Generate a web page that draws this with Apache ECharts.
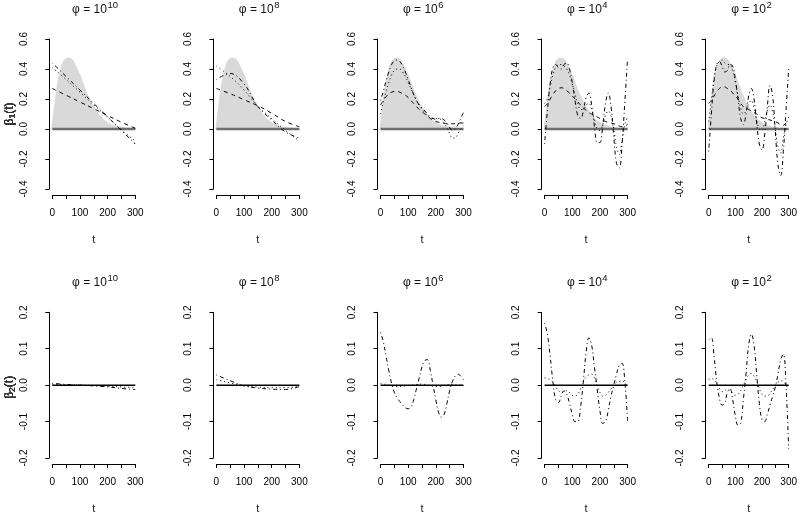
<!DOCTYPE html>
<html><head><meta charset="utf-8">
<script src="https://cdn.jsdelivr.net/npm/echarts@6/dist/echarts.min.js"></script>
<style>html,body{margin:0;padding:0;background:#fff}#c{width:800px;height:515px}</style>
</head><body><div id="c"></div>
<script>
// ---- data ----
const T  = [0,10,20,30,40,50,60,70,80,90,100,110,120,130,140,150,160,170,180,190,200,210,220,230,240,250,260,270,280,290,300];
const TC = [0,50,100,150,200,250,300];
const ZERO_T = [0,300];
const ZERO_V = [0,0];
const PHI_EXP = ['10','8','6','4','2'];
const X_TICK_LABELS = [0,100,200,300];
const Y1_TICKS = [-0.4,-0.2,0.0,0.2,0.4,0.6];
const Y2_TICKS = [-0.2,-0.1,0.0,0.1,0.2];

const B1_TRUE = [0,0.15,0.29,0.38,0.44,0.465,0.47,0.46,0.43,0.39,0.35,0.30,0.25,0.21,0.17,0.14,0.11,0.085,0.065,0.05,0.038,0.028,0.02,0.014,0.01,0.007,0.004,0.002,0.001,0,0];

// top row (beta1 estimates)
const P1_DASH = [0.27,0.225,0.18,0.135,0.09,0.045,0.005];
const P1_DOT  = [0.41,0.33,0.245,0.16,0.08,-0.005,-0.08];
const P1_DD   = [0.44,0.35,0.26,0.17,0.08,-0.01,-0.10];
const P2_DASH = [0.27,0.235,0.195,0.155,0.105,0.05,0.015];
const P2_DOT  = [0.42,0.35,0.26,0.15,0.07,-0.01,-0.08];
const P2_DD   = [0.33,0.37,0.30,0.15,0.06,-0.02,-0.06];
const P3_DASH = [0.16,0.19,0.215,0.235,0.245,0.25,0.25,0.245,0.235,0.225,0.21,0.19,0.17,0.15,0.13,0.115,0.10,0.085,0.07,0.06,0.05,0.045,0.04,0.038,0.035,0.035,0.035,0.035,0.038,0.04,0.04];
const P3_DOT  = [0.10,0.18,0.25,0.31,0.36,0.39,0.40,0.40,0.38,0.35,0.31,0.27,0.23,0.19,0.16,0.13,0.11,0.09,0.075,0.07,0.07,0.07,0.06,0.04,0.01,-0.03,-0.06,-0.06,-0.03,0.0,0.02];
const P3_DD   = [0.19,0.25,0.32,0.38,0.43,0.455,0.46,0.45,0.42,0.38,0.33,0.28,0.23,0.19,0.16,0.14,0.12,0.10,0.08,0.07,0.065,0.07,0.07,0.06,0.04,0.01,-0.01,0.0,0.03,0.07,0.11];
const P4_DASH = [0.15,0.17,0.20,0.23,0.255,0.27,0.275,0.27,0.255,0.24,0.22,0.20,0.18,0.16,0.14,0.125,0.11,0.10,0.09,0.08,0.07,0.06,0.05,0.045,0.04,0.035,0.03,0.02,0.015,0.02,0.03];
const P4_DOT  = [0.17,0.20,0.28,0.36,0.41,0.43,0.43,0.42,0.40,0.36,0.30,0.23,0.17,0.13,0.13,0.16,0.17,0.13,0.06,0.0,-0.01,0.03,0.09,0.12,0.09,0.0,-0.12,-0.17,-0.08,0.03,0.08];
const P4_DD   = [-0.10,0.12,0.30,0.41,0.43,0.41,0.40,0.43,0.44,0.40,0.31,0.19,0.09,0.07,0.12,0.21,0.24,0.16,0.02,-0.09,-0.09,0.02,0.17,0.24,0.15,-0.05,-0.23,-0.26,-0.10,0.18,0.47];
const P5_DASH = [0.17,0.19,0.22,0.25,0.27,0.28,0.28,0.27,0.26,0.24,0.22,0.20,0.17,0.15,0.14,0.13,0.12,0.11,0.10,0.085,0.075,0.07,0.065,0.06,0.055,0.05,0.04,0.03,0.025,0.04,0.06];
const P5_DOT  = [0.05,0.20,0.34,0.42,0.45,0.46,0.44,0.43,0.43,0.39,0.31,0.22,0.14,0.10,0.12,0.17,0.19,0.14,0.06,0.0,-0.01,0.05,0.12,0.16,0.11,0.0,-0.12,-0.16,-0.06,0.03,0.08];
const P5_DD   = [-0.15,0.10,0.32,0.43,0.45,0.42,0.38,0.39,0.43,0.42,0.33,0.20,0.07,0.03,0.10,0.22,0.27,0.20,0.04,-0.10,-0.14,-0.04,0.15,0.29,0.22,-0.02,-0.24,-0.31,-0.15,0.12,0.40];

// bottom row (beta2 estimates)
const Q1_DOT = [0.003,0.001,0.0,-0.001,-0.003,-0.005,-0.007];
const Q1_DD  = [0.005,0.002,0.0,-0.002,-0.005,-0.009,-0.012];
const Q2_DOT = [0.015,0.006,-0.002,-0.005,-0.007,-0.007,-0.003];
const Q2_DD  = [0.028,0.012,-0.002,-0.008,-0.011,-0.012,-0.004];
const Q3_DOT = [0.004,0.003,0.002,0.0,-0.002,-0.003,-0.004,-0.004,-0.003,-0.002,-0.001,0.0,0.001,0.002,0.003,0.003,0.002,0.0,-0.002,-0.003,-0.004,-0.004,-0.003,-0.001,0.001,0.002,0.002,0.001,0.0,0.0,0.0];
const Q3_DD  = [0.145,0.12,0.08,0.04,0.005,-0.02,-0.035,-0.045,-0.055,-0.062,-0.065,-0.06,-0.04,-0.01,0.02,0.05,0.068,0.07,0.04,0.0,-0.04,-0.075,-0.088,-0.08,-0.05,-0.015,0.01,0.025,0.03,0.025,0.015];
const Q4_DOT = [0.02,0.018,0.015,0.008,-0.005,-0.015,-0.02,-0.018,-0.015,-0.02,-0.028,-0.03,-0.025,-0.01,0.01,0.022,0.028,0.03,0.02,0.0,-0.02,-0.03,-0.028,-0.02,-0.01,0.0,0.008,0.01,0.012,0.005,-0.002];
const Q4_DD  = [0.17,0.14,0.08,0.01,-0.04,-0.048,-0.03,-0.016,-0.025,-0.05,-0.08,-0.10,-0.10,-0.06,0.01,0.09,0.13,0.11,0.05,-0.01,-0.07,-0.105,-0.10,-0.07,-0.03,0.0,0.03,0.055,0.06,0.01,-0.10];
const Q5_DOT = [0.015,0.018,0.015,0.005,-0.008,-0.018,-0.015,-0.01,-0.015,-0.022,-0.028,-0.025,-0.015,0.0,0.015,0.028,0.032,0.025,0.01,-0.01,-0.025,-0.03,-0.03,-0.022,-0.012,0.0,0.008,0.012,0.01,0.0,-0.01];
const Q5_DD  = [0.125,0.13,0.08,0.01,-0.035,-0.055,-0.05,-0.02,-0.01,-0.04,-0.085,-0.11,-0.105,-0.04,0.03,0.11,0.14,0.11,0.03,-0.05,-0.095,-0.10,-0.08,-0.055,-0.03,-0.005,0.03,0.07,0.085,0.0,-0.175];

// ---- assembly ----
const TOP = [
  {t:TC, dash:P1_DASH, dot:P1_DOT, dd:P1_DD},
  {t:TC, dash:P2_DASH, dot:P2_DOT, dd:P2_DD},
  {t:T,  dash:P3_DASH, dot:P3_DOT, dd:P3_DD},
  {t:T,  dash:P4_DASH, dot:P4_DOT, dd:P4_DD},
  {t:T,  dash:P5_DASH, dot:P5_DOT, dd:P5_DD}
];
const BOT = [
  {t:TC, dot:Q1_DOT, dd:Q1_DD},
  {t:TC, dot:Q2_DOT, dd:Q2_DD},
  {t:T,  dot:Q3_DOT, dd:Q3_DD},
  {t:T,  dot:Q4_DOT, dd:Q4_DD},
  {t:T,  dot:Q5_DOT, dd:Q5_DD}
];

const FAM = '"Liberation Sans", Arial, Helvetica, sans-serif';
const LEFT0 = 52.3, STEP = 164.1, W = 83, H = 150, TOPS = [39, 312.3];
const pair = (ts, vs) => ts.map((t, i) => [t, vs[i]]);

const cv = document.createElement('canvas').getContext('2d');
function tw(s, size) { cv.font = 'normal ' + size + 'px ' + FAM; return cv.measureText(s).width; }
function txt(s, size, col) {
  return {text: s, fontSize: size, fontFamily: FAM, fontWeight: 'normal', fill: col || '#000',
          align: 'left', verticalAlign: 'middle', lineWidth: 0};
}

const grids = [], xAxes = [], yAxes = [], series = [], graphics = [];
const DASH = [4,4], DOT = [1,3], DOTDASH = [1,3,4,3];

for (let row = 0; row < 2; row++) {
  for (let k = 0; k < 5; k++) {
    const i = row * 5 + k;
    const left = LEFT0 + STEP * k, top = TOPS[row];
    grids.push({left: left, top: top, width: W, height: H, containLabel: false});
    const yt = row === 0 ? Y1_TICKS : Y2_TICKS;
    xAxes.push({
      gridIndex: i, type: 'value', min: 0, max: 300, interval: 50, offset: 6,
      axisLine: {show: true, onZero: false, lineStyle: {color: '#000', width: 1}},
      axisTick: {show: true, length: 4, lineStyle: {color: '#000', width: 1}},
      axisLabel: {margin: 13, fontSize: 10, color: '#000', fontFamily: FAM,
        showMinLabel: true, showMaxLabel: true,
        formatter: v => X_TICK_LABELS.indexOf(v) >= 0 ? String(v) : ''},
      splitLine: {show: false},
      name: 't', nameLocation: 'middle', nameGap: 39,
      nameTextStyle: {fontSize: 11, color: '#222', fontFamily: FAM}
    });
    yAxes.push({
      gridIndex: i, type: 'value', min: yt[0], max: yt[yt.length - 1],
      interval: row === 0 ? 0.2 : 0.1, offset: 3,
      axisLine: {show: true, onZero: false, lineStyle: {color: '#000', width: 1}},
      axisTick: {show: true, length: 4, lineStyle: {color: '#000', width: 1}},
      axisLabel: {rotate: 90, margin: 20, fontSize: 10, color: '#000', fontFamily: FAM,
        showMinLabel: true, showMaxLabel: true,
        formatter: v => (Math.abs(v) < 1e-9 ? 0 : v).toFixed(1)},
      splitLine: {show: false}
    });

    const base = {type: 'line', xAxisIndex: i, yAxisIndex: i, symbol: 'none', showSymbol: false,
      silent: true, animation: false, clip: false};
    if (row === 0) {
      const d = TOP[k];
      series.push(Object.assign({}, base, {data: pair(T, B1_TRUE), smooth: 0.3, z: 1,
        lineStyle: {color: '#d9d9d9', width: 2}, areaStyle: {color: '#d9d9d9', opacity: 1, origin: 0}}));
      series.push(Object.assign({}, base, {data: pair(ZERO_T, ZERO_V), z: 2,
        lineStyle: {color: '#6e6e6e', width: 2.5}}));
      series.push(Object.assign({}, base, {data: pair(d.t, d.dash), smooth: 0.4, z: 3,
        lineStyle: {color: '#000', width: 1, type: DASH}}));
      series.push(Object.assign({}, base, {data: pair(d.t, d.dot), smooth: 0.4, z: 3,
        lineStyle: {color: '#000', width: 1, type: DOT}}));
      series.push(Object.assign({}, base, {data: pair(d.t, d.dd), smooth: 0.4, z: 3,
        lineStyle: {color: '#000', width: 1, type: DOTDASH}}));
    } else {
      const d = BOT[k];
      series.push(Object.assign({}, base, {data: pair(ZERO_T, ZERO_V), z: 2,
        lineStyle: {color: '#000', width: 1.5}}));
      series.push(Object.assign({}, base, {data: pair(d.t, d.dot), smooth: 0.4, z: 3,
        lineStyle: {color: '#000', width: 1, type: DOT}}));
      series.push(Object.assign({}, base, {data: pair(d.t, d.dd), smooth: 0.4, z: 3,
        lineStyle: {color: '#000', width: 1, type: DOTDASH}}));
    }

    // title: φ = 10^e
    const main = 'φ = 10', sup = PHI_EXP[k];
    const wm = tw(main, 12), ws = tw(sup, 9.5);
    const cx = left + W / 2 + 1, cy = row === 0 ? 10 : 283;
    const sx = cx - (wm + ws) / 2;
    graphics.push({type: 'text', x: sx, y: cy, silent: true, style: txt(main, 12, '#111')});
    graphics.push({type: 'text', x: sx + wm + 0.5, y: cy - 5, silent: true, style: txt(sup, 9.5, '#111')});

    // y-axis name: β_n(t), rotated
    const sub = row === 0 ? '1' : '2';
    const wb = tw('β', 12), wsub = tw(sub, 8.5), wp = tw('(t)', 12);
    const x0 = -(wb + wsub + wp) / 2;
    graphics.push({type: 'group', x: 10, y: top + H / 2, rotation: Math.PI / 2, silent: true,
      children: [
        {type: 'text', x: x0, y: 0, style: txt('β', 12, '#333')},
        {type: 'text', x: x0 + wb, y: 3, style: txt(sub, 8.5, '#333')},
        {type: 'text', x: x0 + wb + wsub, y: 0, style: txt('(t)', 12, '#333')}
      ]});
  }
}

const chart = echarts.init(document.getElementById('c'), null, {renderer: 'canvas'});
chart.setOption({
  backgroundColor: '#fff',
  animation: false,
  grid: grids, xAxis: xAxes, yAxis: yAxes, series: series,
  graphic: graphics
});
</script></body></html>
